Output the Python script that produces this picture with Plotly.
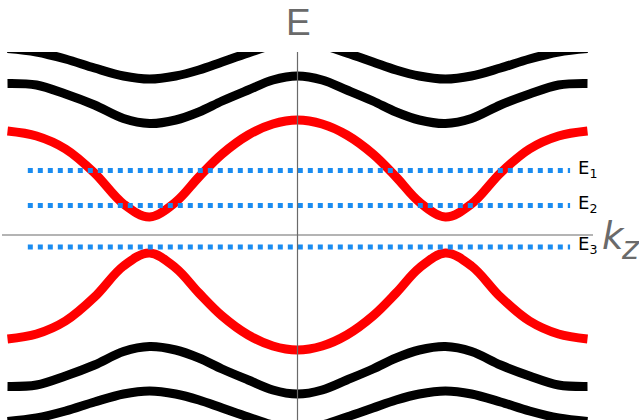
import plotly.graph_objects as go

# wave-vector samples (k_z), symmetric about 0
k = [-1.0, -0.9, -0.8, -0.7, -0.6, -0.51, -0.42, -0.34, -0.26, -0.17, -0.085, 0.0,
     0.085, 0.17, 0.26, 0.34, 0.42, 0.51, 0.6, 0.7, 0.8, 0.9, 1.0]

# bands (energy values)
band_black_1 = [1.865, 1.83, 1.76, 1.67, 1.59, 1.56, 1.59, 1.65, 1.73, 1.82, 1.90, 1.94,
                1.90, 1.82, 1.73, 1.65, 1.59, 1.56, 1.59, 1.67, 1.76, 1.83, 1.865]
band_black_2 = [1.515, 1.50, 1.41, 1.30, 1.165, 1.115, 1.15, 1.23, 1.34, 1.45, 1.55, 1.59,
                1.55, 1.45, 1.34, 1.23, 1.15, 1.115, 1.165, 1.30, 1.41, 1.50, 1.515]
band_red_1 = [1.04, 0.99, 0.86, 0.62, 0.31, 0.18, 0.33, 0.58, 0.81, 1.00, 1.11, 1.15,
              1.11, 1.00, 0.81, 0.58, 0.33, 0.18, 0.31, 0.62, 0.86, 0.99, 1.04]
band_red_2 = [-1.04, -0.99, -0.86, -0.62, -0.31, -0.18, -0.33, -0.58, -0.81, -1.00, -1.11, -1.15,
              -1.11, -1.00, -0.81, -0.58, -0.33, -0.18, -0.31, -0.62, -0.86, -0.99, -1.04]
band_black_3 = [-1.515, -1.50, -1.41, -1.30, -1.165, -1.115, -1.15, -1.23, -1.34, -1.45, -1.55, -1.59,
                -1.55, -1.45, -1.34, -1.23, -1.15, -1.115, -1.165, -1.30, -1.41, -1.50, -1.515]
band_black_4 = [-1.865, -1.83, -1.76, -1.67, -1.59, -1.56, -1.59, -1.65, -1.73, -1.82, -1.90, -1.94,
                -1.90, -1.82, -1.73, -1.65, -1.59, -1.56, -1.59, -1.67, -1.76, -1.83, -1.865]

# Fermi-level lines
level_names = ["E<sub>1</sub>", "E<sub>2</sub>", "E<sub>3</sub>"]
level_values = [0.645, 0.295, -0.12]
level_k = [-0.93, 0.94]

fig = go.Figure()

bands = [(band_black_1, "black"), (band_black_2, "black"), (band_red_1, "#ff0000"),
         (band_red_2, "#ff0000"), (band_black_3, "black"), (band_black_4, "black")]
for vals, col in bands:
    fig.add_trace(go.Scatter(x=k, y=vals, mode="lines",
                             line=dict(color=col, width=9, shape="spline", smoothing=1.0),
                             hoverinfo="skip"))

for name, v in zip(level_names, level_values):
    fig.add_trace(go.Scatter(x=level_k, y=[v, v], mode="lines",
                             line=dict(color="#1a8cf0", width=5, dash="dot"),
                             hoverinfo="skip"))
    fig.add_annotation(x=0.96, y=v + 0.02, xref="x", yref="y", text=name, showarrow=False,
                       xanchor="left", yanchor="middle",
                       font=dict(family="DejaVu Sans", size=18, color="black"))

# axes
fig.add_shape(type="line", xref="x", yref="paper", x0=0, x1=0, y0=0, y1=1,
              line=dict(color="#6a6a6a", width=1.2), layer="above")
fig.add_shape(type="line", xref="x", yref="y", x0=-1.019, x1=1.019, y0=0, y1=0,
              line=dict(color="#6a6a6a", width=1.2), layer="above")

fig.add_annotation(x=298.5 / 639, y=1.0802, xref="paper", yref="paper", text="E", showarrow=False,
                   xanchor="center", yanchor="middle",
                   font=dict(family="Liberation Sans", size=37, color="#6a6a6a"))
fig.add_annotation(x=600 / 639, y=0.5, xref="paper", yref="paper", text="k", showarrow=False,
                   xanchor="left", yanchor="middle",
                   font=dict(family="DejaVu Sans", size=37, color="#6a6a6a", style="italic"))
fig.add_annotation(x=619 / 639, y=0.468, xref="paper", yref="paper", text="z", showarrow=False,
                   xanchor="left", yanchor="middle",
                   font=dict(family="DejaVu Sans", size=32, color="#6a6a6a", style="italic"))

fig.update_layout(
    width=639, height=420,
    margin=dict(l=0, r=0, t=52, b=0),
    paper_bgcolor="white", plot_bgcolor="white",
    showlegend=False,
    xaxis=dict(visible=False, range=[-1.0259, 1.1776], fixedrange=True),
    yaxis=dict(visible=False, range=[-1.85, 1.83], fixedrange=True),
)

fig.write_html("out.html", config={"displayModeBar": False},
               post_script="document.body.style.margin='0';")
